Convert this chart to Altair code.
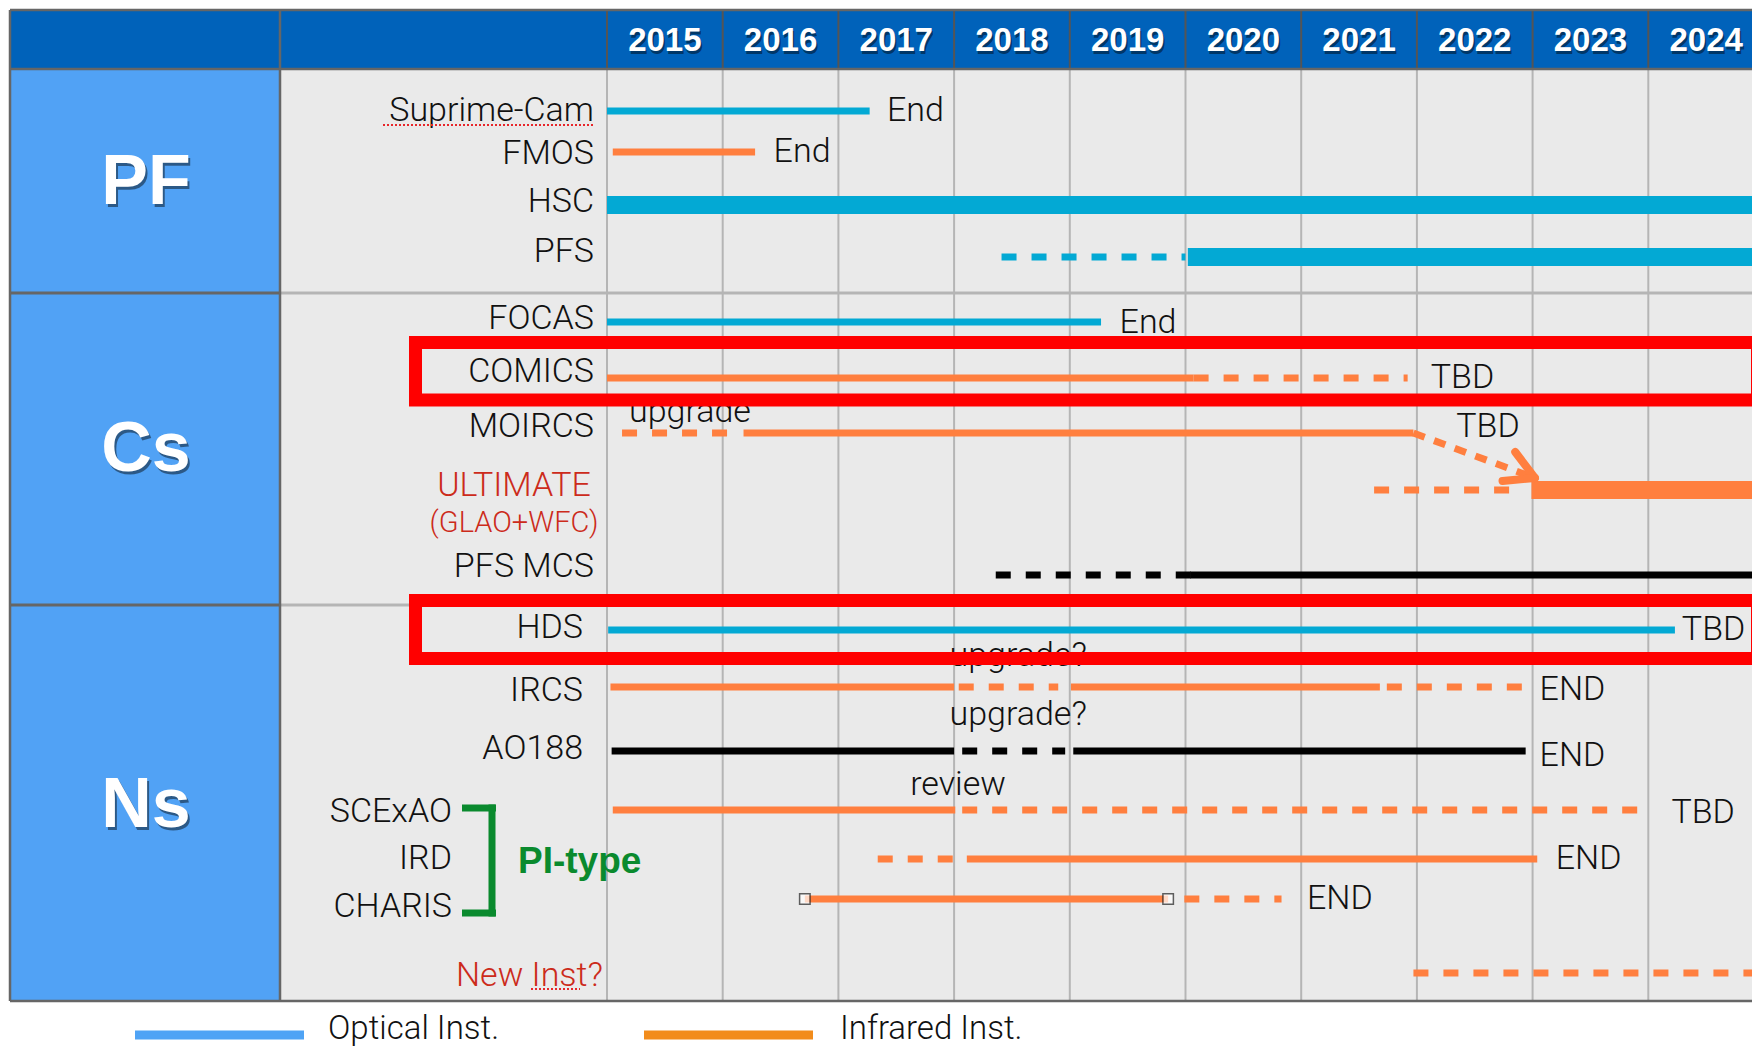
import altair as alt
import pandas as pd

# ---------------- data ----------------
YEARS = list(range(2015, 2025))
SECTIONS = ["PF", "Cs", "Ns"]

INSTRUMENTS = ["Suprime-Cam", "FMOS", "HSC", "PFS", "FOCAS", "COMICS", "MOIRCS",
               "ULTIMATE", "PFS MCS", "HDS", "IRCS", "AO188", "SCExAO", "IRD",
               "CHARIS", "New Inst?"]

# schedule segments
SEG_INST = ["Suprime-Cam", "FMOS", "HSC", "PFS", "PFS", "FOCAS", "COMICS", "COMICS",
            "MOIRCS", "MOIRCS", "ULTIMATE", "ULTIMATE", "PFS MCS", "PFS MCS", "HDS",
            "IRCS", "IRCS", "IRCS", "IRCS", "AO188", "AO188", "AO188",
            "SCExAO", "SCExAO", "IRD", "IRD", "CHARIS", "CHARIS", "New Inst?"]
SEG_START = [2015.0, 2015.05, 2015.0, 2018.41, 2020.02, 2015.0, 2015.0, 2020.07,
             2015.13, 2016.18, 2021.63, 2022.99, 2018.36, 2020.04, 2015.01,
             2015.03, 2018.04, 2019.01, 2021.74, 2015.04, 2018.07, 2019.03,
             2015.05, 2018.07, 2017.34, 2018.11, 2016.71, 2019.99, 2021.97]
SEG_END = [2017.27, 2016.28, 2025.5, 2020.0, 2025.5, 2019.27, 2020.07, 2021.92,
           2016.05, 2021.97, 2022.80, 2025.5, 2020.1, 2025.5, 2024.23,
           2018.0, 2018.9, 2021.68, 2022.91, 2018.0, 2018.96, 2022.94,
           2018.01, 2024.03, 2018.0, 2023.04, 2019.85, 2020.83, 2025.5]
SEG_STYLE = ["solid", "solid", "solid", "dashed", "solid", "solid", "solid", "dashed",
             "dashed", "solid", "dashed", "solid", "dashed", "solid", "solid",
             "solid", "dashed", "solid", "dashed", "solid", "dashed", "solid",
             "solid", "dashed", "dashed", "solid", "solid", "dashed", "dashed"]
SEG_TYPE = ["optical", "infrared", "optical", "optical", "optical", "optical", "infrared", "infrared",
            "infrared", "infrared", "infrared", "infrared", "other", "other", "optical",
            "infrared", "infrared", "infrared", "infrared", "other", "other", "other",
            "infrared", "infrared", "infrared", "infrared", "infrared", "infrared", "infrared"]
SEG_WEIGHT = ["thin", "thin", "thick", "thin", "thick", "thin", "thin", "thin",
              "thin", "thin", "thin", "thick", "thin", "thin", "thin",
              "thin", "thin", "thin", "thin", "thin", "thin", "thin",
              "thin", "thin", "thin", "thin", "thin", "thin", "thin"]

# MOIRCS -> ULTIMATE transition arrow (years)
ARROW_FROM = 2021.97
ARROW_TO = 2023.02

# notes
NOTE_INST = ["Suprime-Cam", "FMOS", "FOCAS", "COMICS", "MOIRCS", "MOIRCS", "HDS",
             "IRCS", "IRCS", "AO188", "AO188", "SCExAO", "SCExAO", "IRD", "CHARIS"]
NOTE_TEXT = ["End", "End", "End", "TBD", "TBD", "upgrade", "TBD",
             "upgrade?", "END", "upgrade?", "END", "review", "TBD", "END", "END"]
NOTE_YEAR = [2017.42, 2016.44, 2019.43, 2022.12, 2022.34, 2015.19, 2024.29,
             2017.96, 2023.06, 2017.96, 2023.06, 2017.62, 2024.2, 2023.2, 2021.05]

LEGEND_LABELS = ["Optical Inst.", "Infrared Inst."]

# ---------------- layout / style ----------------
PX_PER_YEAR = 115.7
X2015 = 599  # plot-x of 2015
XMIN = 2015 - X2015 / PX_PER_YEAR
W, H = 1744, 1041
XMAX = XMIN + W / PX_PER_YEAR
XS = alt.Scale(domain=[XMIN, XMAX], nice=False, zero=False)

def P(v):  # page coordinate -> plot coordinate
    return v - 8

LANE = dict(zip(INSTRUMENTS, [111, 152, 205, 257, 322, 378, 433, 490, 575, 630,
                              687, 751, 810, 859, 899, 973]))
NOTE_DY = [0, 0, 1, 0, -6, -21, 0, -31, 3, -36, 5, -25, 3, 0, 0]

COLORS = {"optical": "#03A9D4", "infrared": "#FF7F3F", "other": "#000000"}
WIDTHS = {"thin": 7, "thick": 18}
DASH = [15, 15]
FONT = "Roboto"
LIGHT = 300
FS = 34

HEADER = "#0062BA"
LEFTBLUE = "#51A2F5"
BODY = "#EAEAEA"
GRID = "#B5B5B5"
FRAME = "#666666"

DUMMY = pd.DataFrame({"k": [0]})


def rect(x1, y1, x2, y2, **kw):
    return alt.Chart(DUMMY).mark_rect(**kw).encode(
        x=alt.value(P(x1)), x2=alt.value(P(x2)), y=alt.value(P(y1)), y2=alt.value(P(y2)))


def pxrules(rows, color, width, dash=None):
    df = pd.DataFrame(rows, columns=["x1", "y1", "x2", "y2"])
    for c in df.columns:
        df[c] = df[c] - 8
    kw = dict(color=color, strokeWidth=width, strokeCap="butt")
    if dash:
        kw["strokeDash"] = dash
    return alt.Chart(df).mark_rule(**kw).encode(
        x=alt.X("x1:Q", scale=None, axis=None), x2="x2:Q",
        y=alt.Y("y1:Q", scale=None, axis=None), y2="y2:Q")


layers = []

# backgrounds
layers.append(rect(10, 10, 1760, 69, color=HEADER))
layers.append(rect(10, 69, 280, 1001, color=LEFTBLUE))
layers.append(rect(280, 69, 1760, 1001, color=BODY))

# vertical year grid
years_df = pd.DataFrame({"year": YEARS})
layers.append(alt.Chart(years_df).mark_rule(color=GRID, strokeWidth=2).encode(
    x=alt.X("year:Q", scale=XS, axis=None), y=alt.value(P(69)), y2=alt.value(P(1001))))
layers.append(alt.Chart(years_df).mark_rule(color="#555555", strokeWidth=2).encode(
    x=alt.X("year:Q", scale=XS, axis=None), y=alt.value(P(10)), y2=alt.value(P(69))))

# section separators
layers.append(pxrules([(280, 293, 1760, 293), (280, 605, 1760, 605)], GRID, 3))
layers.append(pxrules([(10, 293, 280, 293), (10, 605, 280, 605)], FRAME, 3))
# frame
layers.append(pxrules([(10, 10, 1760, 10), (10, 69, 1760, 69), (10, 1001, 1760, 1001)], FRAME, 2.5))
layers.append(pxrules([(10, 10, 10, 1001), (280, 10, 280, 1001)], FRAME, 2.5))

# year header labels (with shadow)
ylab = alt.Chart(years_df).transform_calculate(mid="datum.year + 0.5")
layers.append(ylab.mark_text(font="Liberation Sans", fontWeight="bold", fontSize=33,
                             color="rgba(0,0,0,0.45)", dx=1.5, dy=2.5, baseline="middle").encode(
    x=alt.X("mid:Q", scale=XS, axis=None), y=alt.value(P(41)), text="year:N"))
layers.append(ylab.mark_text(font="Liberation Sans", fontWeight="bold", fontSize=33,
                             color="white", baseline="middle").encode(
    x=alt.X("mid:Q", scale=XS, axis=None), y=alt.value(P(41)), text="year:N"))

# section labels
sec_df = pd.DataFrame({"sec": SECTIONS, "y": [P(183), P(450), P(806)]})
for col, off in [("rgba(0,0,0,0.45)", (2, 3)), ("white", (0, 0))]:
    layers.append(alt.Chart(sec_df).mark_text(font="Liberation Sans", fontWeight="bold", fontSize=70,
                                              color=col, dx=off[0], dy=off[1], baseline="middle").encode(
        x=alt.value(P(146)), y=alt.Y("y:Q", scale=None, axis=None), text="sec:N"))

# instrument labels
LABEL_Y = dict(zip(INSTRUMENTS, [111, 154, 202, 252, 319, 372, 427, 486, 567, 628,
                                 691, 749, 812, 859, 907, 976]))


def label_layer(names, xpage, align, color="#111111", size=FS, extra=None):
    txt = list(names) if extra is None else extra
    ys = [P(LABEL_Y[n]) for n in names] if extra is None else names
    df = pd.DataFrame({"t": txt, "y": ys})
    return alt.Chart(df).mark_text(font=FONT, fontWeight=LIGHT, fontSize=size, color=color,
                                   align=align, baseline="middle").encode(
        x=alt.value(P(xpage)), y=alt.Y("y:Q", scale=None, axis=None), text="t:N")


layers.append(label_layer(["Suprime-Cam", "FMOS", "HSC", "PFS", "FOCAS", "COMICS", "MOIRCS",
                           "PFS MCS"], 594, "right"))
layers.append(label_layer(["HDS", "IRCS", "AO188"], 583, "right"))
layers.append(label_layer(["SCExAO", "IRD", "CHARIS"], 452, "right"))
layers.append(label_layer(["ULTIMATE"], 514, "center", color="#CC2B1B"))
layers.append(label_layer([P(523)], 514, "center", color="#CC2B1B", size=29, extra=["(GLAO+WFC)"]))
layers.append(label_layer(["New Inst?"], 603, "right", color="#CC2B1B"))

# spell-check underlines
layers.append(pxrules([(383, 125, 594, 125), (531, 989, 580, 989)], "#E8262A", 2, dash=[2, 2]))

# PI-type bracket & label
layers.append(pxrules([(462, 808, 496, 808), (462, 913, 496, 913)], "#0A8A2E", 7))
layers.append(pxrules([(492, 804.5, 492, 916.5)], "#0A8A2E", 7))
layers.append(alt.Chart(DUMMY).mark_text(font="Liberation Sans", fontWeight="bold", fontSize=37,
                                         color="#0A8A2E", align="left", baseline="middle").encode(
    x=alt.value(P(518)), y=alt.value(P(862)), text=alt.value("PI-type")))

# schedule segments
seg = pd.DataFrame({"inst": SEG_INST, "start": SEG_START, "end": SEG_END,
                    "style": SEG_STYLE, "type": SEG_TYPE, "weight": SEG_WEIGHT})
seg["y"] = [P(LANE[i]) for i in seg["inst"]]
seg["col"] = seg["type"].map(COLORS)
seg["w"] = seg["weight"].map(WIDTHS)

for style in ["solid", "dashed"]:
    kw = dict(strokeCap="butt")
    if style == "dashed":
        kw["strokeDash"] = DASH
    layers.append(alt.Chart(seg[seg["style"] == style]).mark_rule(**kw).encode(
        x=alt.X("start:Q", scale=XS, axis=None), x2="end:Q",
        y=alt.Y("y:Q", scale=None, axis=None),
        color=alt.Color("col:N", scale=None),
        strokeWidth=alt.StrokeWidth("w:Q", scale=None)))

# MOIRCS -> ULTIMATE arrow
arr = pd.DataFrame({"x1": [ARROW_FROM], "x2": [ARROW_TO],
                    "y1": [P(LANE["MOIRCS"])], "y2": [P(LANE["ULTIMATE"] - 12)]})
layers.append(alt.Chart(arr).mark_rule(color=COLORS["infrared"], strokeWidth=7,
                                       strokeDash=[12, 10], strokeCap="butt").encode(
    x=alt.X("x1:Q", scale=XS, axis=None), x2="x2:Q",
    y=alt.Y("y1:Q", scale=None, axis=None), y2="y2:Q"))
head = pd.DataFrame({"x1": [ARROW_TO, ARROW_TO], "x2": [ARROW_TO - 0.17, ARROW_TO - 0.28],
                     "y1": [P(LANE["ULTIMATE"] - 12)] * 2, "y2": [P(452), P(481)]})
layers.append(alt.Chart(head).mark_rule(color=COLORS["infrared"], strokeWidth=8,
                                        strokeCap="round").encode(
    x=alt.X("x1:Q", scale=XS, axis=None), x2="x2:Q",
    y=alt.Y("y1:Q", scale=None, axis=None), y2="y2:Q"))

# CHARIS markers at the ends of its solid segment
ch = seg[(seg["inst"] == "CHARIS") & (seg["style"] == "solid")]
mk = pd.DataFrame({"x": [ch["start"].iloc[0], ch["end"].iloc[0]], "y": [P(LANE["CHARIS"])] * 2})
layers.append(alt.Chart(mk).mark_square(size=110, filled=True, color="white",
                                        stroke="#222222", strokeWidth=1.5).encode(
    x=alt.X("x:Q", scale=XS, axis=None), y=alt.Y("y:Q", scale=None, axis=None)))

# notes
notes = pd.DataFrame({"t": NOTE_TEXT, "year": NOTE_YEAR,
                      "y": [P(LANE[i] + d) for i, d in zip(NOTE_INST, NOTE_DY)]})
layers.append(alt.Chart(notes).mark_text(font=FONT, fontWeight=LIGHT, fontSize=FS, color="#111111",
                                         align="left", baseline="middle").encode(
    x=alt.X("year:Q", scale=XS, axis=None), y=alt.Y("y:Q", scale=None, axis=None), text="t:N"))

# highlight boxes (COMICS, HDS)
for inst, (top, bot) in {"COMICS": (342.5, 400), "HDS": (600.5, 658.5)}.items():
    layers.append(pxrules([(409, top, 1770, top), (409, bot, 1770, bot)], "#FF0000", 13))
    layers.append(pxrules([(415.5, top, 415.5, bot), (1757.5, top, 1757.5, bot)], "#FF0000", 13))

# legend
layers.append(pxrules([(135, 1035, 304, 1035)], "#4FA3F5", 9))
layers.append(pxrules([(644, 1035, 813, 1035)], "#F28C1C", 9))
leg = pd.DataFrame({"t": LEGEND_LABELS, "x": [P(328), P(840)], "y": [P(1029), P(1029)]})
layers.append(alt.Chart(leg).mark_text(font=FONT, fontWeight=LIGHT, fontSize=33, color="#111111",
                                       align="left", baseline="middle").encode(
    x=alt.X("x:Q", scale=None, axis=None), y=alt.Y("y:Q", scale=None, axis=None), text="t:N"))

chart = alt.layer(*layers).resolve_scale(x="independent", y="independent").properties(
    width=W, height=H, padding=0, autosize=alt.AutoSizeParams(type="none"), background="white"
).configure_view(stroke=None)

chart.save("out.html", embed_options={"renderer": "svg", "actions": False})
